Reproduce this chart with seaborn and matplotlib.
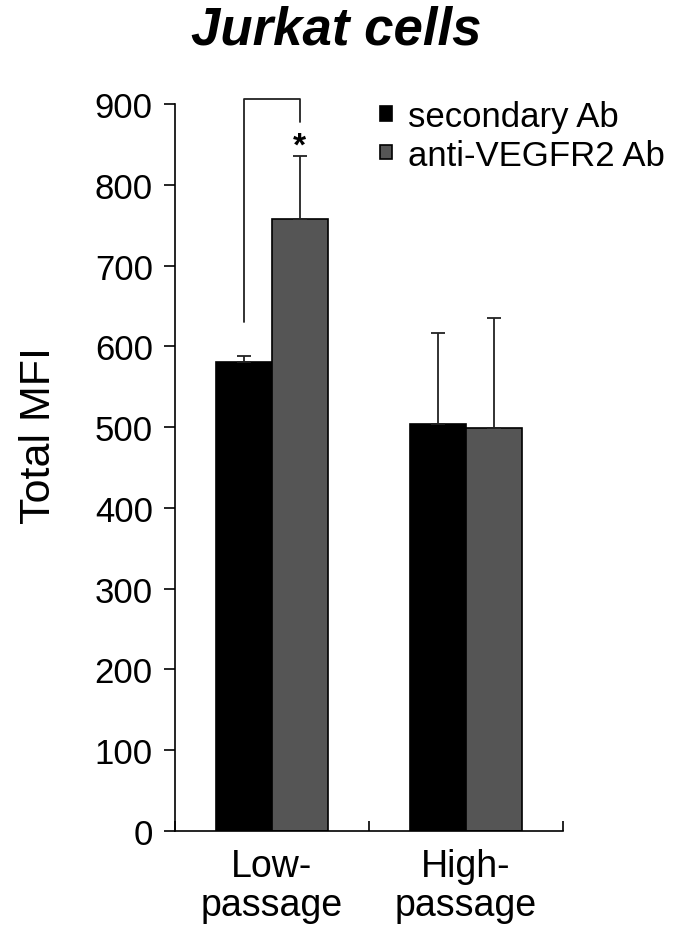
import pandas as pd
import seaborn as sns
import matplotlib.pyplot as plt

categories = ["Low-\npassage", "High-\npassage"]
groups = ["secondary Ab", "anti-VEGFR2 Ab"]
secondary_mfi = [581, 504]
secondary_err = [7, 113]
vegfr2_mfi = [757, 499]
vegfr2_err = [78, 136]

data = pd.DataFrame({
    "passage": categories * 2,
    "antibody": [groups[0]] * 2 + [groups[1]] * 2,
    "mfi": secondary_mfi + vegfr2_mfi,
})
errors = secondary_err + vegfr2_err

sns.set_style("ticks")
plt.rcParams["font.family"] = ["Liberation Sans", "DejaVu Sans"]
for key in ["text.color", "axes.labelcolor", "xtick.color", "ytick.color", "axes.edgecolor"]:
    plt.rcParams[key] = "black"

fig = plt.figure(figsize=(6.73, 9.37), dpi=100)
ax = fig.add_axes([0.26, 0.112, 0.5766, 0.776])

sns.barplot(data=data, x="passage", y="mfi", hue="antibody", order=categories,
            hue_order=groups, palette=["#000000", "#555555"], width=0.575,
            edgecolor="black", linewidth=1.2, errorbar=None, ax=ax)

# one-sided error bars, placed on the bars seaborn drew
bars = [p for p in ax.patches if p.get_height() > 0][:4]
xs = [b.get_x() + b.get_width() / 2 for b in bars]
tops = [b.get_height() for b in bars]
ax.errorbar(xs, tops, yerr=[[0] * 4, errors], fmt="none", ecolor="#222222",
            elinewidth=1.3, capsize=5, capthick=1.3, zorder=3)

# significance bracket
ax.plot([xs[0], xs[0], xs[2], xs[2]], [630, 906, 906, 878], color="#222222",
        lw=1.3, clip_on=False)
ax.text(xs[2], 848, "*", ha="center", va="center", fontsize=24, fontweight="bold")

ax.set_ylim(0, 900)
ax.set_xlim(-0.5, 1.5)
ax.set_yticks(range(0, 901, 100))
ax.tick_params(axis="y", labelsize=25, length=8, width=1.2, pad=8)
ax.set_xticks([0, 1])
ax.set_xticklabels(categories, linespacing=1.1)
ax.tick_params(axis="x", which="major", length=0, labelsize=27, pad=12)
ax.set_xticks([-0.5, 0.5, 1.5], minor=True)
ax.tick_params(axis="x", which="minor", length=7, width=1.2, direction="in")
for s in ["top", "right"]:
    ax.spines[s].set_visible(False)
for s in ["left", "bottom"]:
    ax.spines[s].set_linewidth(1.2)

ax.set_xlabel("")
ax.set_ylabel("Total MFI", fontsize=31)
ax.yaxis.set_label_coords(-0.299, 0.546)
ax.legend(loc="upper left", bbox_to_anchor=(0.448, 1.048), frameon=False,
          fontsize=25, handlelength=0.35, handleheight=0.28, handletextpad=0.45,
          labelspacing=0.15)

fig.text(0.5, 0.967, "Jurkat cells", ha="center", va="center", fontsize=38,
         fontweight="bold", fontstyle="italic")

plt.savefig("out.png")
